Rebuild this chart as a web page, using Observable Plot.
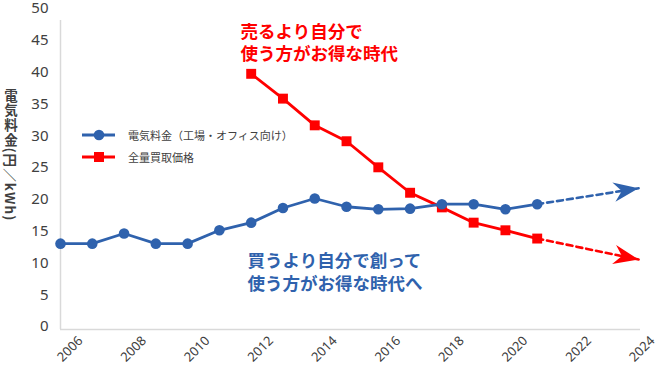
<!DOCTYPE html>
<html>
<head>
<meta charset="utf-8">
<script src="https://cdn.jsdelivr.net/npm/d3@7"></script>
<script src="https://cdn.jsdelivr.net/npm/@observablehq/plot@0.6"></script>
<style>
  body { margin: 0; background: #fff; }
  #wrap { position: relative; width: 655px; height: 370px; font-family: "Noto Sans", "Noto Sans CJK JP", sans-serif; }
  #ytitle { position: absolute; left: 3px; top: 89px; writing-mode: vertical-rl; font-family: "Noto Sans CJK JP", sans-serif; font-size: 13.5px; letter-spacing: 1.1px; font-weight: bold; color: #404040; line-height: 16px; }
  #ytitle span { text-orientation: sideways; }
  #legend { position: absolute; left: 82px; top: 124px; font-family: "Noto Sans CJK JP", sans-serif; font-size: 11px; color: #404040; }
  #legend .row { display: flex; align-items: center; height: 21.7px; }
  #legend svg { margin-right: 13px; }
</style>
</head>
<body>
<div id="wrap"></div>
<script>
// ---- data ----
const blueYears = [2006, 2007, 2008, 2009, 2010, 2011, 2012, 2013, 2014, 2015, 2016, 2017, 2018, 2019, 2020, 2021];
const blueValues = [13.5, 13.5, 15.1, 13.5, 13.5, 15.6, 16.8, 19.1, 20.6, 19.3, 18.9, 19.0, 19.7, 19.7, 18.9, 19.7];
const redYears = [2012, 2013, 2014, 2015, 2016, 2017, 2018, 2019, 2020, 2021];
const redValues = [40.2, 36.3, 32.1, 29.6, 25.5, 21.5, 19.2, 16.8, 15.6, 14.3];
const blueTrendYears = [2021, 2024.19];
const blueTrendValues = [19.7, 22.2];
const redTrendYears = [2021, 2024.19];
const redTrendValues = [14.3, 11.0];
const xTicks = [2006, 2008, 2010, 2012, 2014, 2016, 2018, 2020, 2022, 2024];
const yTicks = [0, 5, 10, 15, 20, 25, 30, 35, 40, 45, 50];
const blueName = "電気料金（工場・オフィス向け）";
const redName = "全量買取価格";
const redNote = "売るより自分で\n使う方がお得な時代";
const blueNote = "買うより自分で創って\n使う方がお得な時代へ";
const yTitleMain = "電気料金";
const yTitleUnit = "(円／kWh)";

const BLUE = "#2F62AD";
const RED = "#FF0000";
const AXIS = "#d9d9d9";
const TEXT = "#404040";

const W = 655, H = 370;
const mL = 60, mR = 15, mT = 11, mB = 41;
const xDomain = [2006, 2024.25];
const yDomain = [0, 50];

const blue = blueYears.map((y, i) => ({year: y, v: blueValues[i]}));
const red = redYears.map((y, i) => ({year: y, v: redValues[i]}));
const blueTrend = blueTrendYears.map((y, i) => ({year: y, v: blueTrendValues[i]}));
const redTrend = redTrendYears.map((y, i) => ({year: y, v: redTrendValues[i]}));

// screen-space angle of a trend segment (same linear mapping Plot uses)
const sx = d3.scaleLinear(xDomain, [mL, W - mR]);
const sy = d3.scaleLinear(yDomain, [H - mB, mT]);
function angle(t) {
  const a = t[0], b = t[t.length - 1];
  return Math.atan2(sy(b.v) - sy(a.v), sx(b.year) - sx(a.year)) * 180 / Math.PI;
}

// stealth arrowhead, tip at origin, pointing to +x
const arrowHead = {
  draw(context, size) {
    const s = Math.sqrt(size / Math.PI) / 10;
    context.moveTo(0, 0);
    context.lineTo(-25 * s, -9.8 * s);
    context.lineTo(-17 * s, 0);
    context.lineTo(-25 * s, 9.8 * s);
    context.closePath();
  }
};

const chart = Plot.plot({
  width: W,
  height: H,
  marginLeft: mL,
  marginRight: mR,
  marginTop: mT,
  marginBottom: mB,
  style: {fontFamily: '"Noto Sans", "Noto Sans CJK JP", sans-serif', color: TEXT, background: "#fff", overflow: "visible"},
  x: {domain: xDomain, label: null},
  y: {domain: yDomain, label: null},
  marks: [
    Plot.ruleY([0], {stroke: AXIS, strokeWidth: 1.5}),
    Plot.ruleX([xDomain[0]], {y1: 0, y2: 48.6, stroke: AXIS, strokeWidth: 1.5}),
    Plot.axisY({ticks: yTicks, tickSize: 0, tickPadding: 12, dy: -3, fontSize: 15, fill: TEXT, label: null}),
    Plot.axisX({ticks: xTicks, tickFormat: d => String(d), tickSize: 0, tickRotate: -45, tickPadding: 3, dx: 20, dy: 6, fontSize: 13, fill: TEXT, label: null}),
    // red
    Plot.line(redTrend, {x: "year", y: "v", stroke: RED, strokeWidth: 2.6, strokeDasharray: "6,4"}),
    Plot.dot([redTrend[redTrend.length - 1]], {x: "year", y: "v", symbol: arrowHead, r: 10, fill: RED, stroke: "none", rotate: angle(redTrend)}),
    Plot.line(red, {x: "year", y: "v", stroke: RED, strokeWidth: 2.8}),
    Plot.dot(red, {x: "year", y: "v", symbol: "square", r: 5.6, fill: RED, stroke: "none"}),
    // blue
    Plot.line(blueTrend, {x: "year", y: "v", stroke: BLUE, strokeWidth: 2.6, strokeDasharray: "6,4"}),
    Plot.dot([blueTrend[blueTrend.length - 1]], {x: "year", y: "v", symbol: arrowHead, r: 10, fill: BLUE, stroke: "none", rotate: angle(blueTrend)}),
    Plot.line(blue, {x: "year", y: "v", stroke: BLUE, strokeWidth: 2.8}),
    Plot.dot(blue, {x: "year", y: "v", symbol: "circle", r: 5.3, fill: BLUE, stroke: "none"}),
    // annotations
    Plot.text([redNote], {frameAnchor: "top-left", text: d => d, dx: 180, dy: 10, textAnchor: "start", lineAnchor: "top", lineHeight: 1.3, fontSize: 17.5, fontWeight: "bold", fill: RED, fontFamily: '"Noto Sans CJK JP", sans-serif'}),
    Plot.text([blueNote], {frameAnchor: "top-left", text: d => d, dx: 187, dy: 239, textAnchor: "start", lineAnchor: "top", lineHeight: 1.33, fontSize: 17.5, fontWeight: "bold", fill: BLUE, fontFamily: '"Noto Sans CJK JP", sans-serif'})
  ]
});

const wrap = document.getElementById("wrap");
wrap.appendChild(chart);

// y-axis title (vertical writing)
const yt = document.createElement("div");
yt.id = "ytitle";
yt.innerHTML = `${yTitleMain}<span>${yTitleUnit}</span>`;
wrap.appendChild(yt);

// legend
const lg = document.createElement("div");
lg.id = "legend";
function swatch(color, shape) {
  const m = shape === "circle"
    ? `<circle cx="17" cy="6" r="5.3" fill="${color}"/>`
    : `<rect x="12" y="1" width="10" height="10" fill="${color}"/>`;
  return `<svg width="33" height="12"><line x1="0" y1="6" x2="33" y2="6" stroke="${color}" stroke-width="2.8"/>${m}</svg>`;
}
lg.innerHTML = `<div class="row">${swatch(BLUE, "circle")}<span>${blueName}</span></div>` +
               `<div class="row">${swatch(RED, "square")}<span>${redName}</span></div>`;
wrap.appendChild(lg);
</script>
</body>
</html>
